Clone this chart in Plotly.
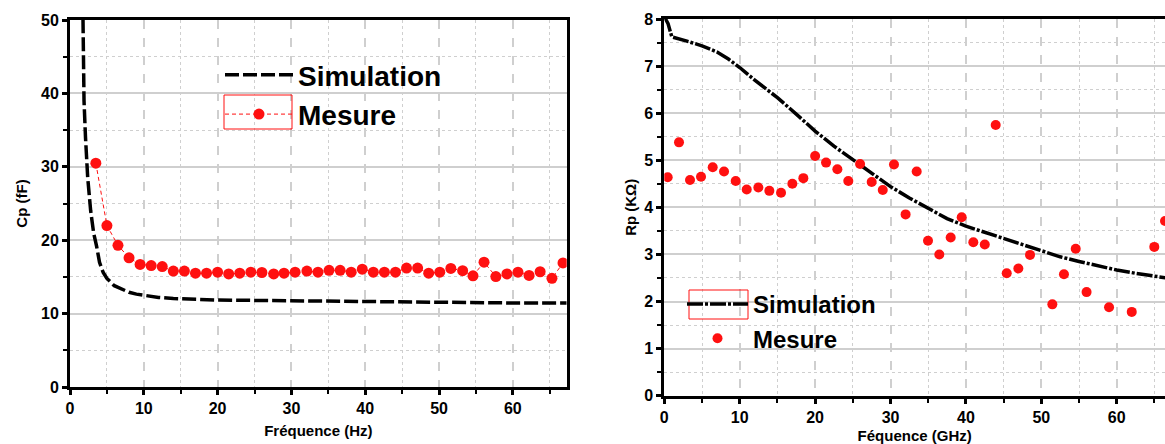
import plotly.graph_objects as go

W, H = 1165, 444

# ---------------- Left panel data (Cp vs frequency) ----------------
sim_f_left = [1.7, 1.8, 1.9, 2.1, 2.4, 2.8, 3.2, 3.6, 4.0, 4.5, 5.0, 6.0, 7.0, 8.0, 9.0, 10.0,
              12.0, 14.0, 16.0, 18.0, 20.0, 25.0, 30.0, 35.0, 40.0, 45.0, 50.0, 55.0, 60.0, 67.3]
sim_cp = [55.0, 45.0, 39.0, 34.0, 28.5, 24.0, 21.0, 19.2, 17.0, 15.6, 14.8, 13.8, 13.3, 12.9, 12.65, 12.5,
          12.2, 12.05, 11.95, 11.9, 11.85, 11.8, 11.75, 11.65, 11.6, 11.55, 11.5, 11.45, 11.45, 11.45]

mes_f_left = [3.5, 5.0, 6.5, 8.0, 9.5, 11.0, 12.5, 14.0, 15.5, 17.0, 18.5, 20.0, 21.5, 23.0, 24.5,
              26.0, 27.6, 29.0, 30.5, 32.1, 33.6, 35.1, 36.6, 38.1, 39.6, 41.1, 42.6, 44.1, 45.6,
              47.1, 48.6, 50.1, 51.6, 53.2, 54.6, 56.1, 57.7, 59.2, 60.7, 62.2, 63.7, 65.3, 66.8]
mes_cp = [30.5, 22.0, 19.3, 17.6, 16.7, 16.55, 16.4, 15.8, 15.8, 15.5, 15.5, 15.65, 15.4, 15.5, 15.65,
          15.6, 15.4, 15.5, 15.65, 15.8, 15.65, 15.9, 15.9, 15.65, 16.05, 15.65, 15.65, 15.65, 16.2,
          16.2, 15.5, 15.65, 16.15, 15.85, 15.15, 17.0, 15.05, 15.4, 15.65, 15.2, 15.7, 14.8, 16.9]

# ---------------- Right panel data (Rp vs frequency) ----------------
sim_f_right = [0.0, 0.5, 1.0, 2.0, 3.0, 5.0, 7.0, 8.5, 10.0, 12.0, 15.0, 17.5, 20.0, 22.5, 25.0,
               27.5, 30.0, 32.5, 35.0, 37.5, 40.0, 42.5, 45.0, 47.5, 50.0, 52.5, 55.0, 57.5, 60.0,
               62.5, 65.0, 67.0]
sim_rp = [8.05, 7.9, 7.62, 7.58, 7.53, 7.43, 7.3, 7.15, 6.97, 6.7, 6.33, 5.98, 5.62, 5.3, 5.02,
          4.72, 4.44, 4.2, 3.98, 3.76, 3.6, 3.47, 3.34, 3.2, 3.07, 2.95, 2.85, 2.76, 2.67,
          2.6, 2.54, 2.49]

mes_f_right = [0.45, 1.95, 3.41, 4.87, 6.42, 7.92, 9.47, 10.93, 12.47, 13.93, 15.48, 16.98, 18.44,
               20.0, 21.45, 22.95, 24.4, 25.96, 27.5, 28.97, 30.46, 32.0, 33.47, 34.97, 36.47,
               37.98, 39.44, 40.98, 42.5, 43.95, 45.41, 46.95, 48.5, 51.46, 53.0, 54.56, 56.0,
               58.98, 61.99, 64.98, 66.4]
mes_rp = [4.64, 5.38, 4.58, 4.65, 4.85, 4.76, 4.56, 4.38, 4.42, 4.35, 4.31, 4.50, 4.62,
          5.09, 4.95, 4.81, 4.56, 4.92, 4.54, 4.37, 4.91, 3.85, 4.76, 3.29, 3.0,
          3.36, 3.79, 3.26, 3.21, 5.75, 2.60, 2.70, 2.99, 1.94, 2.58, 3.12, 2.20,
          1.88, 1.78, 3.16, 3.71]

FONT = "Arial, Liberation Sans, sans-serif"
RED = "#ff1010"


def px_x(p):
    return p / W


def px_y(p):
    return 1 - p / H


fig = go.Figure()

fig.add_trace(go.Scatter(
    x=sim_f_left, y=sim_cp, mode="lines", name="Simulation",
    line=dict(color="black", width=3.5, dash="14px,4px"),
    xaxis="x", yaxis="y", legend="legend"))
fig.add_trace(go.Scatter(
    x=mes_f_left, y=mes_cp, mode="lines+markers", name="Mesure",
    line=dict(color=RED, width=1, dash="4px,3px"),
    marker=dict(color=RED, size=11, symbol="circle"),
    xaxis="x", yaxis="y", legend="legend"))

fig.add_trace(go.Scatter(
    x=sim_f_right, y=sim_rp, mode="lines", name="Simulation",
    line=dict(color="black", width=3.5, dash="16px,2px,3px,2px"),
    xaxis="x2", yaxis="y2", legend="legend2"))
fig.add_trace(go.Scatter(
    x=mes_f_right, y=mes_rp, mode="markers", name="Mesure",
    marker=dict(color=RED, size=10, symbol="circle"),
    xaxis="x2", yaxis="y2", legend="legend2"))

tickfont = dict(family=FONT, size=16, color="black", weight="bold")
titlefont = dict(family=FONT, size=15, color="black", weight="bold")


def axis(rng, dtick, mdtick, domain, anchor, title, major_dash, standoff, mirror=True):
    return dict(
        range=rng, domain=domain, anchor=anchor, dtick=dtick,
        showline=True, linecolor="black", linewidth=3, mirror=mirror,
        ticks="outside", ticklen=5, tickwidth=2.5, tickcolor="black",
        tickfont=tickfont, zeroline=False,
        showgrid=True, gridcolor="#cfcfcf", gridwidth=1.5, griddash=major_dash,
        minor=dict(dtick=mdtick, ticks="outside", ticklen=4, tickwidth=2, tickcolor="black",
                   showgrid=True, gridcolor="#cfcfcf", gridwidth=1, griddash="dot"),
        title=dict(text=title, font=titlefont, standoff=standoff),
        automargin=False, fixedrange=True)


fig.update_layout(
    width=W, height=H,
    margin=dict(l=0, r=0, t=0, b=0),
    paper_bgcolor="white", plot_bgcolor="white",
    showlegend=True,
    xaxis=axis([0, 67.3], 10, 5, [px_x(70), px_x(566.7)], "y", "Fréquence (Hz)", "dash", 10),
    yaxis=axis([0, 50], 10, 5, [px_y(387), px_y(20)], "x", "Cp (fF)", "solid", 10),
    xaxis2=axis([0, 66.4], 10, 5, [px_x(664.3), 1.0], "y2", "Féquence (GHz)", "dash", 8),
    yaxis2=axis([0, 8], 1, 0.5, [px_y(395.7), px_y(19)], "x2", "Rp (KΩ)", "solid", 4, mirror=False),
    legend=dict(x=px_x(220), y=px_y(50), xanchor="left", yanchor="top",
                bgcolor="rgba(0,0,0,0)", borderwidth=0,
                font=dict(family=FONT, size=28, color="black", weight="bold"),
                itemwidth=68, tracegroupgap=0),
    legend2=dict(x=px_x(682), y=px_y(282), xanchor="left", yanchor="top",
                 bgcolor="rgba(0,0,0,0)", borderwidth=0,
                 font=dict(family=FONT, size=24, color="black", weight="bold"),
                 itemwidth=61, tracegroupgap=0),
)

# x-axis2 top border (mirror of x axis only)
fig.layout.xaxis2.mirror = True

# red selection boxes around legend samples
fig.add_shape(type="rect", xref="paper", yref="paper",
              x0=px_x(224), x1=px_x(292), y0=px_y(129), y1=px_y(95),
              line=dict(color=RED, width=1))
fig.add_shape(type="rect", xref="paper", yref="paper",
              x0=px_x(689), x1=px_x(748), y0=px_y(319), y1=px_y(290),
              line=dict(color=RED, width=1))

fig.write_html(
    "out.html",
    config={"displayModeBar": False},
    post_script="document.body.style.margin='0px';document.body.style.overflow='hidden';")
